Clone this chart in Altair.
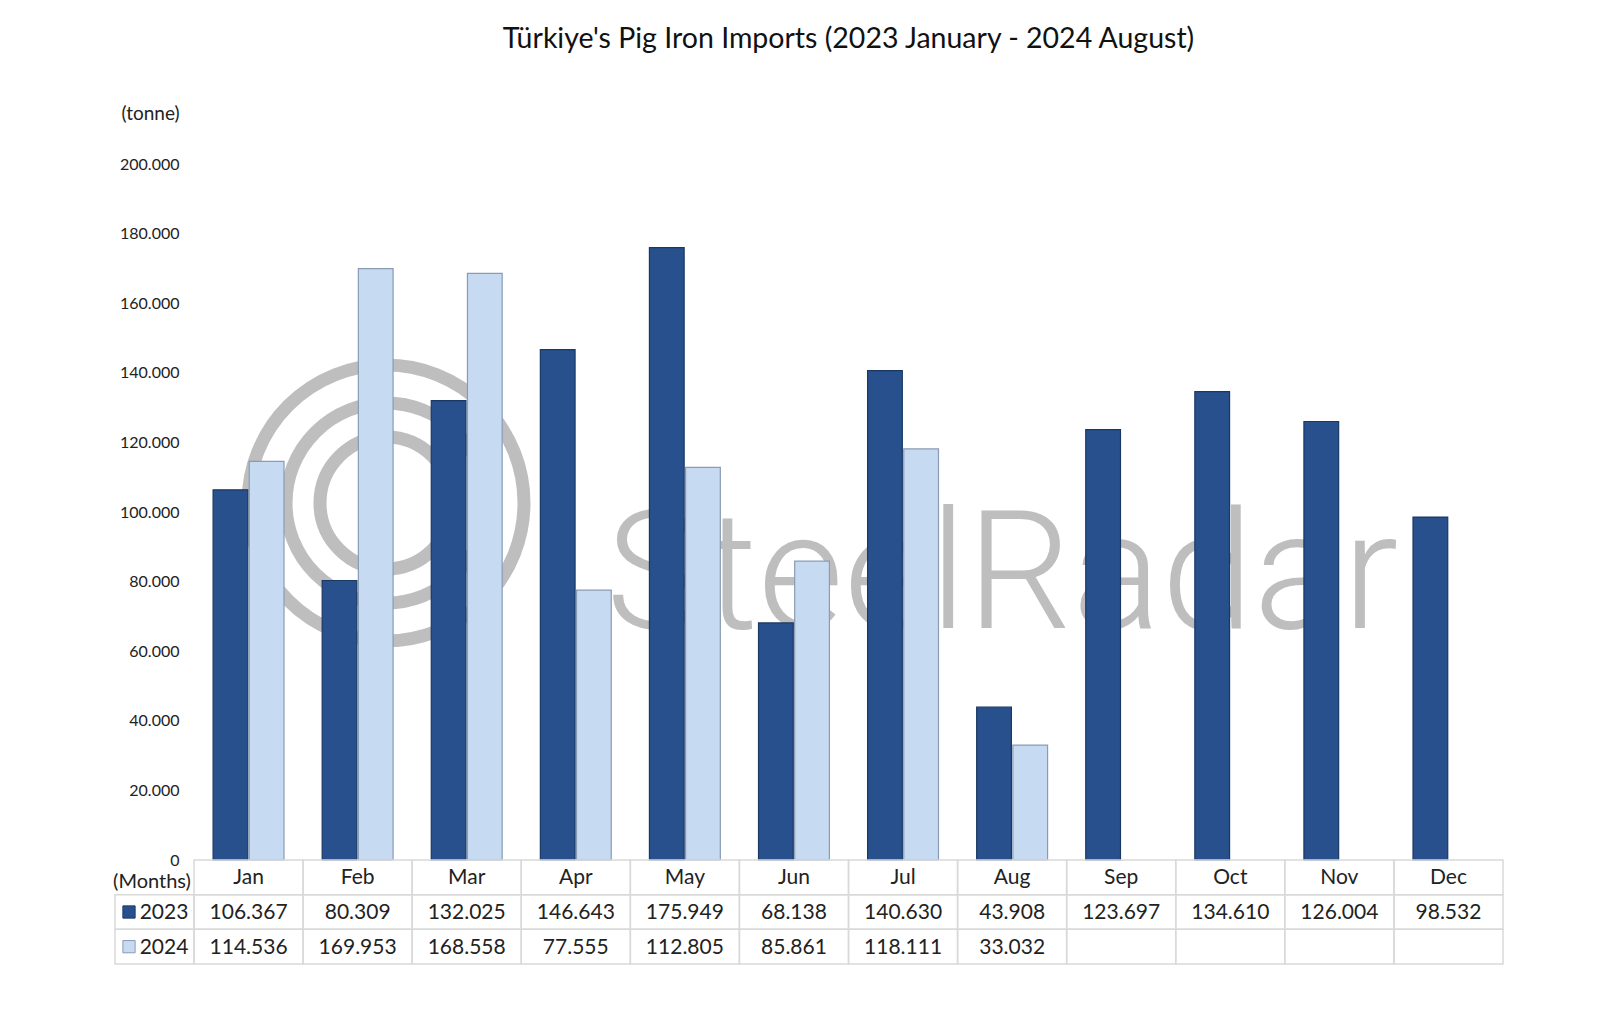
import altair as alt
import pandas as pd

months = ["Jan", "Feb", "Mar", "Apr", "May", "Jun", "Jul", "Aug", "Sep", "Oct", "Nov", "Dec"]
v2023 = [106367, 80309, 132025, 146643, 175949, 68138, 140630, 43908, 123697, 134610, 126004, 98532]
v2024 = [114536, 169953, 168558, 77555, 112805, 85861, 118111, 33032]
years = ["2023", "2024"]
rows = ["hdr", "2023", "2024"]
y_ticks = [0, 20000, 40000, 60000, 80000, 100000, 120000, 140000, 160000, 180000, 200000]
title_text = "Türkiye's Pig Iron Imports (2023 January - 2024 August)"

FONT = "Lato"
DARK = "#27508C"
LIGHT = "#C6DAF2"
DARK_STROKE = "#1A3864"
LIGHT_STROKE = "#8A9BB3"
GRID = "#D9D9D9"
WM = "#BEBEBE"

bars_df = pd.DataFrame(
    [{"month": m, "year": "2023", "value": v} for m, v in zip(months, v2023)]
    + [{"month": m, "year": "2024", "value": v} for m, v in zip(months, v2024)]
)
cells_df = pd.DataFrame([{"month": m, "year": r} for m in months for r in rows])
header_df = pd.DataFrame({"month": months, "year": ["hdr"] * len(months)})
left_df = pd.DataFrame({"year": years})
months_lbl_df = pd.DataFrame({"year": ["hdr"], "t": ["(Months)"]})
wm_df = pd.DataFrame({"t": ["SteelRadar"]})

color_scale = alt.Scale(domain=years, range=[DARK, LIGHT])
stroke_scale = alt.Scale(domain=years, range=[DARK_STROKE, LIGHT_STROKE])

# watermark
ring1 = alt.Chart(wm_df).mark_point(shape="circle", filled=False, strokeWidth=13, color=WM, opacity=1).encode(
    x=alt.value(192), y=alt.value(339), size=alt.value(76176))
ring2 = alt.Chart(wm_df).mark_point(shape="circle", filled=False, strokeWidth=13, color=WM, opacity=1).encode(
    x=alt.value(192), y=alt.value(339), size=alt.value(40000))
ring3 = alt.Chart(wm_df).mark_point(shape="circle", filled=False, strokeWidth=13, color=WM, opacity=1).encode(
    x=alt.value(192), y=alt.value(339), size=alt.value(17424))
wm_text = alt.Chart(wm_df).mark_text(align="left", baseline="alphabetic", fontSize=166, font="Roboto",
                                     fontWeight=300, color=WM).encode(
    x=alt.value(412), y=alt.value(464), text="t:N")

bars = alt.Chart(bars_df).mark_bar(strokeWidth=1.2).encode(
    x=alt.X("month:N", sort=months,
            scale=alt.Scale(domain=months, paddingInner=0.35, paddingOuter=0.175), axis=None),
    xOffset=alt.XOffset("year:N", scale=alt.Scale(domain=years, paddingInner=0.04, paddingOuter=0)),
    y=alt.Y("value:Q", scale=alt.Scale(domain=[0, 200000], nice=False),
            axis=alt.Axis(values=y_ticks,
                          labelExpr="datum.value == 0 ? '0' : format(datum.value / 1000, '.3f')",
                          grid=False, domain=False, ticks=False, labelPadding=15,
                          labelFont=FONT, labelFontSize=16, labelColor="#222222",
                          title="(tonne)", titleAngle=0, titleX=-44, titleY=-51,
                          titleAlign="center", titleBaseline="middle",
                          titleFont=FONT, titleFontSize=19, titleFontWeight="normal",
                          titleColor="#222222")),
    color=alt.Color("year:N", scale=color_scale, legend=None),
    stroke=alt.Stroke("year:N", scale=stroke_scale, legend=None),
)

main = alt.layer(ring1, ring2, ring3, wm_text, bars)

tx = alt.X("month:N", scale=alt.Scale(domain=months, paddingInner=0, paddingOuter=0), axis=None)
ty = alt.Y("year:N", scale=alt.Scale(domain=rows, range=[696, 800], paddingInner=0, paddingOuter=0), axis=None)

cells = alt.Chart(cells_df).mark_rect(fill="transparent", stroke=GRID, strokeWidth=1.5).encode(x=tx, y=ty)
left_cells = alt.Chart(left_df).mark_rect(fill="transparent", stroke=GRID, strokeWidth=1.5).encode(
    x=alt.value(-79), x2=alt.value(0), y=ty)
header_text = alt.Chart(header_df).mark_text(font=FONT, fontSize=21, color="#222222", baseline="middle", dy=1).encode(
    x=tx, y=ty, text="month:N")
val_text = alt.Chart(bars_df).transform_calculate(
    label="format(datum.value / 1000, '.3f')"
).mark_text(font=FONT, fontSize=21, color="#222222", baseline="middle", dy=1).encode(
    x=tx, y=ty, text="label:N")
squares = alt.Chart(left_df).mark_point(shape="square", filled=True, size=150, strokeWidth=1, opacity=1).encode(
    x=alt.value(-65), y=ty,
    color=alt.Color("year:N", scale=color_scale, legend=None),
    stroke=alt.Stroke("year:N", scale=stroke_scale, legend=None))
left_text = alt.Chart(left_df).mark_text(font=FONT, fontSize=21, color="#222222", baseline="middle", dy=1).encode(
    x=alt.value(-30), y=ty, text="year:N")
months_lbl = alt.Chart(months_lbl_df).mark_text(font=FONT, fontSize=20, color="#222222", baseline="middle", dy=5).encode(
    x=alt.value(-42), y=ty, text="t:N")

table = alt.layer(cells, left_cells, header_text, val_text, squares, left_text, months_lbl)

chart = alt.layer(main, table).resolve_scale(x="independent", y="independent").properties(
    width=1309, height=696,
    background="white",
    autosize=alt.AutoSizeParams(type="none"),
    padding={"left": 186, "top": 156, "right": 80, "bottom": 130},
    title=alt.TitleParams(title_text, font=FONT, fontSize=28.5, fontWeight="normal",
                          color="#111111", anchor="middle", offset=51),
).configure_view(strokeWidth=0, stroke=None)

chart.save("out.html", embed_options={"renderer": "svg", "actions": False})
